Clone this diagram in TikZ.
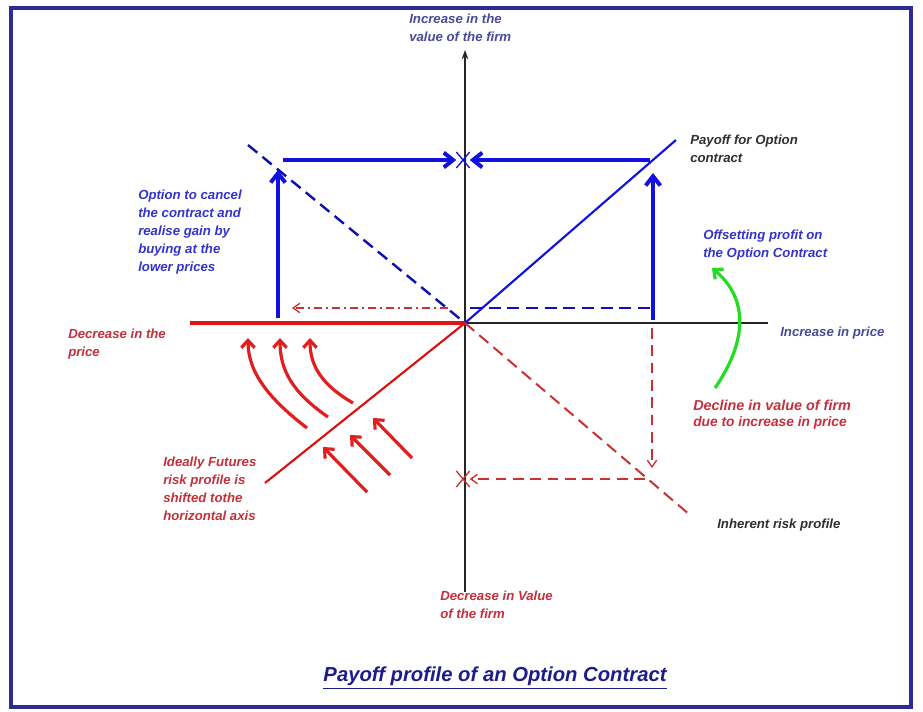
\documentclass[tikz,border=0pt]{standalone}
\usepackage{fontspec}
\setsansfont{Liberation Sans}
\usetikzlibrary{arrows.meta,shapes.misc}

\definecolor{optblue}{HTML}{1212E0}
\definecolor{riskred}{HTML}{E01414}
\definecolor{dashred}{HTML}{C83232}
\definecolor{lblblue}{HTML}{3434CC}
\definecolor{lblslate}{HTML}{4A4A9C}
\definecolor{lblred}{HTML}{C4303C}
\definecolor{lblgray}{HTML}{303030}
\definecolor{titlenavy}{HTML}{1C1C8C}
\definecolor{framenavy}{HTML}{2C2C96}
\definecolor{gainred}{HTML}{E02020}
\definecolor{offgreen}{HTML}{22DD22}

\begin{document}
\begin{tikzpicture}[
    x=0.75pt, y=-0.75pt,
    every node/.style={align=left, inner sep=0pt},
    lbl/.style={anchor=west, font=\sffamily\bfseries\itshape\fontsize{9.9}{13.5}\selectfont},
    axis/.style={line width=1pt, black!85},
    thick-arr/.style={-{Straight Barb[length=7pt,width=11pt]}, line width=3pt, optblue},
    curl-arr/.style={-{Straight Barb[length=5.5pt,width=10pt]}, line width=2.4pt, gainred},
    thin-arr/.style={-{Straight Barb[length=5pt,width=7pt]}, line width=1pt},
    xmark/.style={cross out, draw, line width=1pt, minimum width=9pt, minimum height=11pt},
]
\fill[white] (0,0) rectangle (923,711);
\useasboundingbox (0,0) rectangle (923,711);

% --- frame ---
\draw[line width=3pt, framenavy] (11,8) rectangle (911,707);

% --- key points ---
\coordinate (O)      at (465,323);
\coordinate (ytop)   at (465,50);
\coordinate (ybot)   at (465,592);
\coordinate (xleft)  at (190,323);
\coordinate (xright) at (768,323);
\coordinate (payend) at (676,140);
\coordinate (dashst) at (248,145);
\coordinate (inhend) at (690,515);
\coordinate (futend) at (265,483);

% --- axes ---
\draw[axis] (xleft) -- (xright);
\draw[axis, -{Stealth[length=7pt,width=5pt]}] (ybot) -- (ytop);
\draw[line width=2.4pt, riskred] (xleft) -- (O);

% --- profiles ---
\draw[line width=1.6pt, optblue] (O) -- (payend);
\draw[line width=1.8pt, optblue!80!black, dash pattern=on 9pt off 5pt] (dashst) -- (O);
\draw[line width=1.5pt, dashred, dash pattern=on 9pt off 5pt] (O) -- (inhend);
\draw[line width=1.6pt, riskred] (O) -- (futend);

% --- cancel / offset arrows (blue) ---
\node[xmark, draw=optblue] (xgain) at (463,160) {};
\coordinate (lbase) at (278,318);
\coordinate (ltop)  at (278,170);
\coordinate (lhor)  at (283,160);
\coordinate (rhor)  at (650,160);
\coordinate (rbase) at (653,320);
\coordinate (rtop)  at (653,173);
\draw[thick-arr] (lbase) -- (ltop);
\draw[thick-arr] (lhor) -- (xgain.west);
\draw[thick-arr] (rhor) -- (xgain.east);
\draw[thick-arr] (rbase) -- (rtop);

\coordinate (bdash) at (653,308);
\coordinate (rdash) at (292,308);
\draw[line width=1.1pt, optblue!85!black, dash pattern=on 9pt off 5pt] (470,308) -- (bdash);
\draw[thin-arr, dashred, dash pattern=on 6pt off 3pt on 1.5pt off 3pt] (448,308) -- (rdash);

% --- decline in value (red dashed) ---
\node[xmark, draw=dashred] (xloss) at (463,479) {};
\coordinate (dtop)  at (652,328);
\coordinate (dbot)  at (652,468);
\coordinate (hst)   at (645,479);
\draw[thin-arr, dashred, dash pattern=on 8pt off 5pt] (dtop) -- (dbot);
\draw[thin-arr, dashred, dash pattern=on 8pt off 5pt] (hst) -- (xloss.east);

% --- shifting the futures profile ---
\draw[curl-arr] (307,428) .. controls (268,398) and (248,372) .. (248,338);
\draw[curl-arr] (328,417) .. controls (292,392) and (280,370) .. (280,338);
\draw[curl-arr] (353,403) .. controls (322,385) and (310,366) .. (310,338);
\draw[curl-arr] (367,492) -- (323,447);
\draw[curl-arr] (390,475) -- (350,435);
\draw[curl-arr] (412,458) -- (373,418);

% --- offsetting profit (green) ---
\draw[-{Straight Barb[length=5.5pt,width=10pt]}, line width=2.4pt, offgreen]
    (715,388) .. controls (748,340) and (748,298) .. (712,268);

% --- labels ---
\node[lbl, text=lblslate] (lvalup)  at (409,28)  {Increase in the\\value of the firm};
\node[lbl, text=lblblue]  (lcancel) at (138,232) {Option to cancel\\the contract and\\realise gain by\\buying at the\\lower prices};
\node[lbl, text=lblgray]  (lpayoff) at (690,149) {Payoff for Option\\contract};
\node[lbl, text=lblblue]  (loffset) at (703,245) {Offsetting profit on\\the Option Contract};
\node[lbl, text=lblred]   (lpdown)  at (68,344)  {Decrease in the\\price};
\node[lbl, text=lblslate] (lpup)    at (780,333) {Increase in price};
\node[lbl, text=lblred, font=\sffamily\bfseries\itshape\fontsize{10.8}{13.5}\selectfont] (ldecl) at (693,405) {Decline in value of firm};
\node[lbl, text=lblred, font=\sffamily\bfseries\itshape\fontsize{10.3}{13.5}\selectfont] (ldue) at (693,423) {due to increase in price};
\node[lbl, text=lblred]   (lideal)  at (163,489) {Ideally Futures\\risk profile is\\shifted tothe\\horizontal axis};
\node[lbl, text=lblgray]  (linher)  at (717,525) {Inherent risk profile};
\node[lbl, text=lblred]   (lvaldn)  at (440,605) {Decrease in Value\\of the firm};
\node[font=\sffamily\bfseries\itshape\fontsize{15.2}{17}\selectfont, text=titlenavy] (title) at (495,678) {\underline{Payoff profile of an Option Contract}};
\end{tikzpicture}
\end{document}
